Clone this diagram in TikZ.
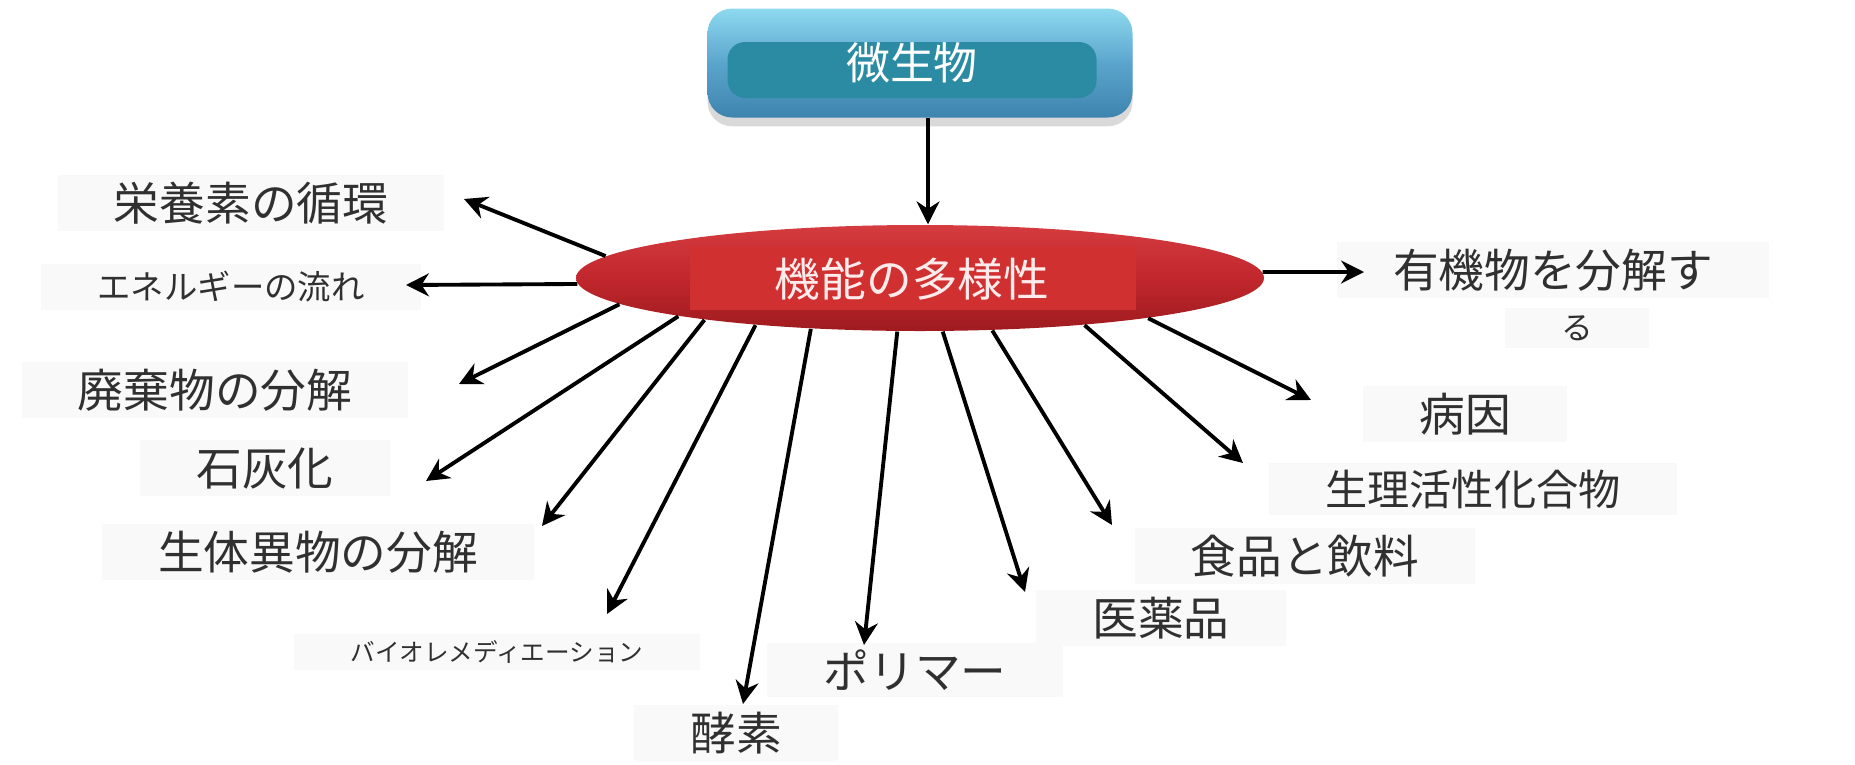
\documentclass[tikz,border=0pt]{standalone}
\usepackage{fontspec}
\setmainfont{Noto Sans CJK JP}
\usepackage{tikz}
\usetikzlibrary{arrows.meta}
\usetikzlibrary{shapes.geometric}
\usetikzlibrary{shadows}

\definecolor{BoxTop}{HTML}{8ED9EF}
\definecolor{BoxMid}{HTML}{5AA5CD}
\definecolor{BoxBot}{HTML}{3E84AE}
\definecolor{BoxIn}{HTML}{2B8BA3}
\definecolor{EllTop}{HTML}{D43C40}
\definecolor{EllMid}{HTML}{C1272D}
\definecolor{EllBot}{HTML}{9E1B1F}
\definecolor{EllIn}{HTML}{D0302F}
\definecolor{LblText}{HTML}{303030}

\begin{document}
\begin{tikzpicture}[x=0.1mm,y=-0.1mm,
    lbl/.style={fill=black!2.5, text=LblText, inner xsep=16pt, inner ysep=2pt,
      font=\fontsize{13}{15}\selectfont},
    conn/.style={-{Stealth[length=6.5pt,width=6.5pt]}, line width=1.1pt}]
        \useasboundingbox (0,0) rectangle (1855,764);

        % top box
        \node[rounded corners=7pt, minimum width=42.5mm, minimum height=10.9mm,
          top color=BoxTop, bottom color=BoxBot, middle color=BoxMid,
          drop shadow={opacity=0.3, shadow xshift=0pt, shadow yshift=-2.5pt}] (micro) at (920,63) {};
        \node[rounded corners=5pt, fill=BoxIn, minimum width=36.9mm, minimum height=5.6mm]
          at (912,70) {};
        \node[text=white, font=\fontsize{12.5}{15}\selectfont] at (912,63) {微生物};

        % central ellipse
        \node[ellipse, minimum width=68.8mm, minimum height=10.6mm, inner sep=0pt,
          top color=EllTop, bottom color=EllBot, middle color=EllMid] (div) at (920,278) {};
        \node[fill=EllIn, minimum width=44.6mm, minimum height=6.4mm] at (913,278) {};
        \node[text=white!92!red, font=\fontsize{13}{15}\selectfont] at (912,279) {機能の多様性};

        \draw[conn] ([xshift=0.8mm]micro.south) -- ([xshift=0.8mm]div.north);

        % labels
        \node[lbl] (nutr) at (251,203) {栄養素の循環};
        \node[lbl, font=\fontsize{9.5}{11}\selectfont] (energy) at (231,287) {エネルギーの流れ};
        \node[lbl] (waste) at (215,390) {廃棄物の分解};
        \node[lbl] (calc) at (265,468) {石灰化};
        \node[lbl] (xeno) at (318,552) {生体異物の分解};
        \node[lbl, font=\fontsize{7}{8}\selectfont] (biorem) at (497,652) {バイオレメディエーション};
        \node[lbl] (enzyme) at (736,733) {酵素};
        \node[lbl] (polymer) at (915,670) {ポリマー};
        \node[lbl] (pharma) at (1161,618) {医薬品};
        \node[lbl] (food) at (1305,556) {食品と飲料};
        \node[lbl, font=\fontsize{12}{14}\selectfont] (bioact) at (1473,489) {生理活性化合物};
        \node[lbl] (patho) at (1465,414) {病因};
        \node[lbl] (organic) at (1553,270) {有機物を分解す};
        \node[lbl, font=\fontsize{9}{10}\selectfont] (organic2) at (1577,328) {る};

        % arrow tips
        \coordinate (nutr-tip) at (464,199);
        \coordinate (energy-tip) at (406,285);
        \coordinate (waste-tip) at (459,384);
        \coordinate (calc-tip) at (426,481);
        \coordinate (xeno-tip) at (542,526);
        \coordinate (biorem-tip) at (607,614);
        \coordinate (enzyme-tip) at (743,704);
        \coordinate (polymer-tip) at (864,645);
        \coordinate (pharma-tip) at (1025,592);
        \coordinate (food-tip) at (1112,525);
        \coordinate (bioact-tip) at (1243,463);
        \coordinate (patho-tip) at (1311,400);
        \coordinate (organic-tip) at (1364,272);

        \draw[conn] (div.176) -- (nutr-tip);
        \draw[conn] (div.181) -- (energy-tip);
        \draw[conn] (div.185) -- (waste-tip);
        \draw[conn] (div.189) -- (calc-tip);
        \draw[conn] (div.191) -- (xeno-tip);
        \draw[conn] (div.196) -- (biorem-tip);
        \draw[conn] (div.205) -- (enzyme-tip);
        \draw[conn] (div.247) -- (polymer-tip);
        \draw[conn] (div.293) -- (pharma-tip);
        \draw[conn] (div.324) -- (food-tip);
        \draw[conn] (div.344) -- (bioact-tip);
        \draw[conn] (div.350) -- (patho-tip);
        \draw[conn] (div.1) -- (organic-tip);
    \end{tikzpicture}
\end{document}
